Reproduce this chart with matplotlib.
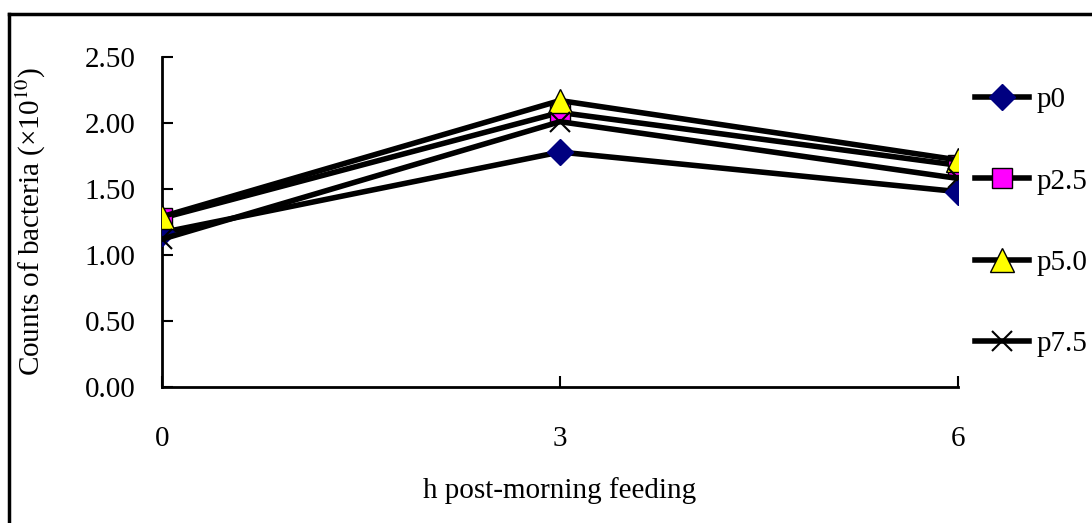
import matplotlib.pyplot as plt
from matplotlib.lines import Line2D

plt.rcParams['font.family'] = ['Liberation Serif', 'DejaVu Serif']
plt.rcParams['mathtext.fontset'] = 'stix'

hours = [0, 3, 6]
p0 = [1.17, 1.78, 1.48]
p25 = [1.28, 2.08, 1.68]
p50 = [1.29, 2.17, 1.72]
p75 = [1.12, 2.01, 1.58]

fig = plt.figure(figsize=(10.92, 5.23), dpi=100)
ax = fig.add_axes([162 / 1092, 1 - 387 / 523, (958 - 162) / 1092, (387 - 57) / 523])

lw = 4
ax.plot(hours, p0, color='black', lw=lw, marker='D', ms=13, mfc='#000080', mec='#000080', label='p0', zorder=3)
ax.plot(hours, p25, color='black', lw=lw, marker='s', ms=14, mfc='#ff00ff', mec='black', mew=1, label='p2.5', zorder=3)
ax.plot(hours, p50, color='black', lw=lw, marker='^', ms=17, mfc='#ffff00', mec='black', mew=1, label='p5.0', zorder=3)
ax.plot(hours, p75, color='black', lw=lw, marker='x', ms=14, mec='black', mew=1.5, label='p7.5', zorder=3)

ax.set_xlim(0, 6)
ax.set_ylim(0, 2.5)
ax.set_xticks(hours)
ax.set_yticks([0, 0.5, 1.0, 1.5, 2.0, 2.5])
ax.set_yticklabels(['0.00', '0.50', '1.00', '1.50', '2.00', '2.50'])
ax.tick_params(axis='both', direction='in', length=8, width=1.5, labelsize=21)
ax.tick_params(axis='y', pad=19)
ax.tick_params(axis='x', pad=28)
for s in ['top', 'right']:
    ax.spines[s].set_visible(False)
for s in ['left', 'bottom']:
    ax.spines[s].set_linewidth(2)
for lab in ax.get_xticklabels() + ax.get_yticklabels():
    lab.set_clip_on(False)

ax.set_xlabel('h post-morning feeding', fontsize=21, labelpad=18)
ax.set_ylabel('Counts of bacteria (×10$^{10}$)', fontsize=21, labelpad=26)

fig.legend(loc='upper left', bbox_to_anchor=(975 / 1092, 1 - 87 / 523), frameon=False,
           fontsize=21, handlelength=1.85, labelspacing=1.88, handletextpad=0.25,
           borderaxespad=0, borderpad=0)

# outer frame (top and left edges)
fig.add_artist(Line2D([9 / 1092, 9 / 1092], [0, 1 - 14 / 523], transform=fig.transFigure, color='black', lw=2.5))
fig.add_artist(Line2D([9 / 1092, 1], [1 - 14 / 523, 1 - 14 / 523], transform=fig.transFigure, color='black', lw=2.5))

fig.savefig('out.png', dpi=100)
